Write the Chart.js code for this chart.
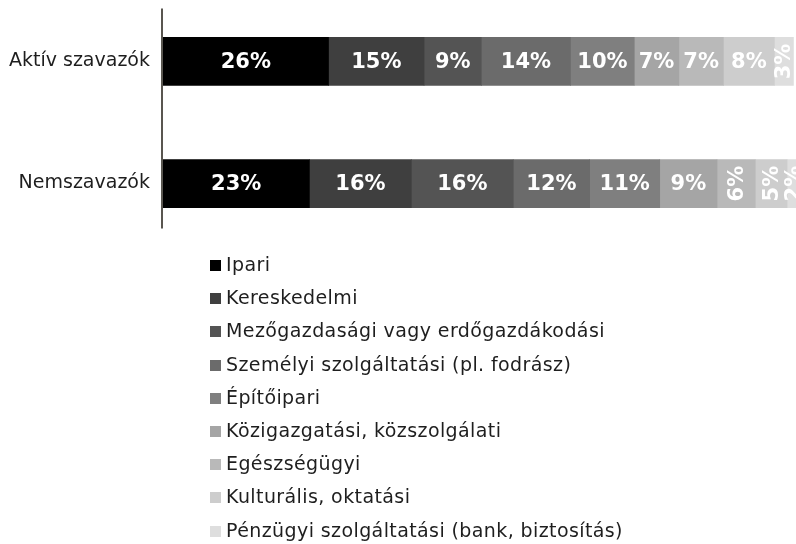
<!DOCTYPE html>
<html>
<head>
<meta charset="utf-8">
<script src="https://cdn.jsdelivr.net/npm/chart.js@4"></script>
<style>
    body { margin: 0; background: #fff; font-family: 'DejaVu Sans', sans-serif; }
    #wrap { position: relative; width: 796px; height: 544px; overflow: hidden; }
    #chartBox { position: absolute; left: 0; top: -16px; width: 796px; height: 277px; }
    #legend { position: absolute; left: 210px; top: 248px; margin: 0; padding: 0; list-style: none; }
    #legend li { height: 33.2px; line-height: 33.2px; font-size: 19px; letter-spacing: 0.4px; color: #1e1e1e; white-space: nowrap; }
    #legend .box { display: inline-block; width: 11px; height: 11px; margin-right: 5px; vertical-align: 0px; }
</style>
</head>
<body>
<div id="wrap">
    <div id="chartBox"><canvas id="barChart" width="796" height="277"></canvas></div>
    <ul id="legend"></ul>
</div>
<script>
const categories = ['Aktív szavazók', 'Nemszavazók'];

const seriesNames = [
    'Ipari',
    'Kereskedelmi',
    'Mezőgazdasági vagy erdőgazdákodási',
    'Személyi szolgáltatási (pl. fodrász)',
    'Építőipari',
    'Közigazgatási, közszolgálati',
    'Egészségügyi',
    'Kulturális, oktatási',
    'Pénzügyi szolgáltatási (bank, biztosítás)'
];

// one array per sector: [Aktív szavazók, Nemszavazók]
const ipari = [26, 23];
const kereskedelmi = [15, 16];
const mezogazdasagi = [9, 16];
const szemelyi = [14, 12];
const epitoipari = [10, 11];
const kozigazgatasi = [7, 9];
const egeszsegugyi = [7, 6];
const kulturalis = [8, 5];
const penzugyi = [3, 2];

const seriesValues = [ipari, kereskedelmi, mezogazdasagi, szemelyi, epitoipari,
    kozigazgatasi, egeszsegugyi, kulturalis, penzugyi];

const seriesColors = ['#000000', '#3f3f3f', '#545454', '#6b6b6b', '#7f7f7f',
    '#a5a5a5', '#b9b9b9', '#cdcdcd', '#dedede'];

/**
 * Percent labels inside segments, rotated when the segment is narrow
 */
const segmentLabels = {
    id: 'segmentLabels',
    afterDatasetsDraw(chart) {
        const ctx = chart.ctx;
        ctx.save();
        ctx.fillStyle = '#ffffff';
        ctx.font = 'bold 21px "DejaVu Sans", sans-serif';
        ctx.textAlign = 'center';
        ctx.textBaseline = 'middle';
        chart.data.datasets.forEach((ds, i) => {
            chart.getDatasetMeta(i).data.forEach((bar, j) => {
                const value = ds.data[j];
                const text = value + '%';
                const cx = (bar.x + bar.base) / 2;
                const cy = bar.y;
                if (value <= 6) {
                    ctx.save();
                    ctx.translate(cx, cy);
                    ctx.rotate(-Math.PI / 2);
                    ctx.fillText(text, 0, 1);
                    ctx.restore();
                } else {
                    ctx.fillText(text, cx, cy + 1);
                }
            });
        });
        ctx.restore();
    }
};

/**
 * Vertical axis line left of the bars
 */
const axisLine = {
    id: 'axisLine',
    afterDraw(chart) {
        const { ctx, chartArea } = chart;
        ctx.save();
        ctx.strokeStyle = '#595650';
        ctx.lineWidth = 2;
        ctx.beginPath();
        ctx.moveTo(chartArea.left - 1, chartArea.top + 8);
        ctx.lineTo(chartArea.left - 1, chartArea.bottom - 16);
        ctx.stroke();
        ctx.restore();
    }
};

function buildLegend(chart) {
    const list = document.getElementById('legend');
    list.innerHTML = chart.data.datasets.map(ds => `
        <li><span class="box" style="background:${ds.backgroundColor}"></span>${ds.label}</li>
    `).join('');
}

function initializeChart() {
    const ctx = document.getElementById('barChart').getContext('2d');
    const chart = new Chart(ctx, {
        type: 'bar',
        data: {
            labels: categories,
            datasets: seriesNames.map((name, i) => ({
                label: name,
                data: seriesValues[i],
                backgroundColor: seriesColors[i],
                borderWidth: 0,
                barThickness: 48
            }))
        },
        options: {
            indexAxis: 'y',
            responsive: false,
            animation: false,
            layout: { padding: { top: 1, right: 0, bottom: 0, left: 0 } },
            plugins: {
                legend: { display: false },
                tooltip: { enabled: false }
            },
            scales: {
                x: {
                    stacked: true,
                    display: false,
                    min: 0,
                    max: 99.4
                },
                y: {
                    stacked: true,
                    grid: { display: false },
                    border: { display: false },
                    ticks: {
                        padding: 5,
                        color: '#1e1e1e',
                        font: { family: '"DejaVu Sans", sans-serif', size: 19 }
                    },
                    afterFit(scale) { scale.width = 163; }
                }
            }
        },
        plugins: [segmentLabels, axisLine]
    });
    buildLegend(chart);
}

document.addEventListener('DOMContentLoaded', initializeChart);
</script>
</body>
</html>
